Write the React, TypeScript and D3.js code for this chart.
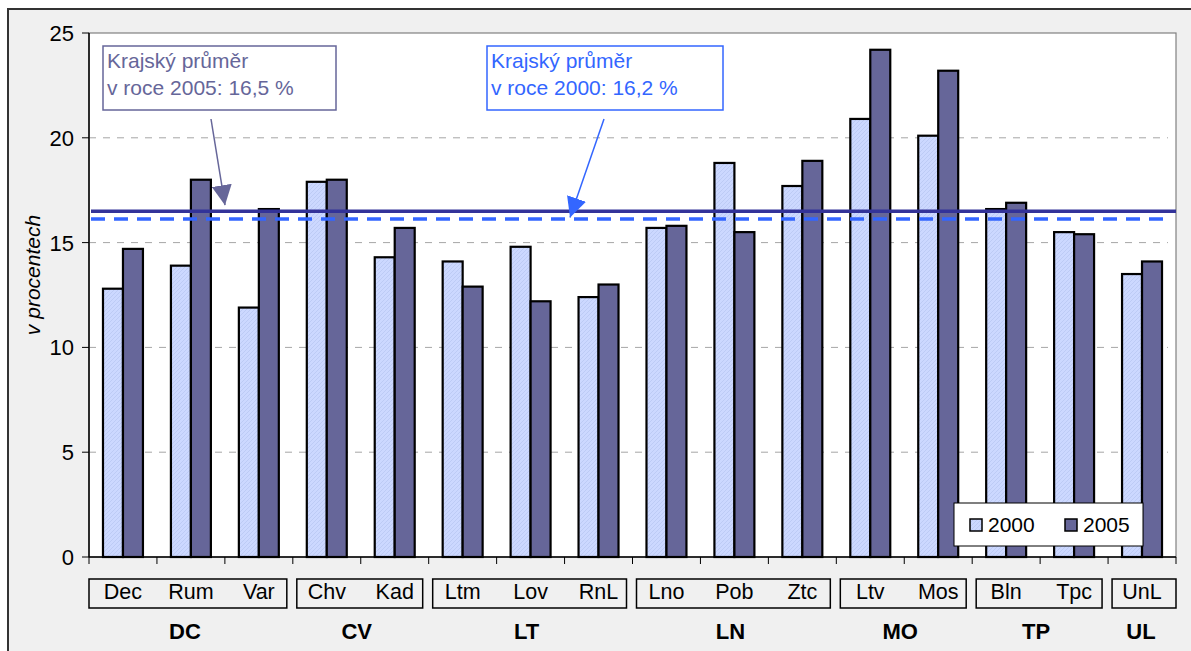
import * as d3 from "d3";

// categories (districts) and their region groups
const CATEGORIES = ["Dec", "Rum", "Var", "Chv", "Kad", "Ltm", "Lov", "RnL", "Lno", "Pob", "Ztc", "Ltv", "Mos", "Bln", "Tpc", "UnL"];
const GROUPS = [
  { name: "DC", items: ["Dec", "Rum", "Var"] },
  { name: "CV", items: ["Chv", "Kad"] },
  { name: "LT", items: ["Ltm", "Lov", "RnL"] },
  { name: "LN", items: ["Lno", "Pob", "Ztc"] },
  { name: "MO", items: ["Ltv", "Mos"] },
  { name: "TP", items: ["Bln", "Tpc"] },
  { name: "UL", items: ["UnL"] },
];
const YEARS = ["2000", "2005"];
const VALUES_2000 = [12.8, 13.9, 11.9, 17.9, 14.3, 14.1, 14.8, 12.4, 15.7, 18.8, 17.7, 20.9, 20.1, 16.6, 15.5, 13.5];
const VALUES_2005 = [14.7, 18.0, 16.6, 18.0, 15.7, 12.9, 12.2, 13.0, 15.8, 15.5, 18.9, 24.2, 23.2, 16.9, 15.4, 14.1];
const Y_TICKS = [0, 5, 10, 15, 20, 25];
const AVG_2005 = 16.5;
const AVG_2000 = 16.2;

const FILL_2000 = "#ccd8ff";
const FILL_2005 = "#666699";
const COL_2005 = "#666699";
const COL_2000 = "#3366ff";
const FONT = "'Liberation Sans', Arial, sans-serif";

export default function App() {
  const left = 89, right = 1176, top = 33, bottom = 557;

  const x = d3.scaleBand().domain(CATEGORIES).range([left, right]).padding(0);
  const inner = d3.scaleBand().domain(YEARS).range([0, x.bandwidth()]).paddingInner(0).paddingOuter(0.7);
  const y = d3.scaleLinear().domain([0, 25]).range([bottom, top]);

  const series = [
    { year: "2000", values: VALUES_2000, fill: "url(#hatch2000)" },
    { year: "2005", values: VALUES_2005, fill: FILL_2005 },
  ];

  const bw = x.bandwidth();

  return (
    <div style={{ position: "absolute", left: 0, top: 0 }}>
      <svg width={1191} height={651} style={{ display: "block", fontFamily: FONT }}>
        <defs>
          <pattern id="hatch2000" width="4" height="4" patternUnits="userSpaceOnUse">
            <rect width="4" height="4" fill={FILL_2000} />
            <path d="M0,4 L4,0" stroke="#b6c6f0" strokeWidth="0.7" />
          </pattern>
          <marker id="arrow2005" viewBox="0 0 20 20" refX="20" refY="10" markerWidth="20" markerHeight="20" markerUnits="userSpaceOnUse" orient="auto">
            <path d="M0,0 L20,10 L0,20 Z" fill={COL_2005} />
          </marker>
          <marker id="arrow2000" viewBox="0 0 20 20" refX="20" refY="10" markerWidth="20" markerHeight="20" markerUnits="userSpaceOnUse" orient="auto">
            <path d="M0,0 L20,10 L0,20 Z" fill={COL_2000} />
          </marker>
        </defs>

        {/* outer frame */}
        <rect x={8} y={9} width={1200} height={700} fill="#f0f0f0" stroke="#333" strokeWidth={2} />

        {/* plot area */}
        <rect x={left} y={top} width={right - left} height={bottom - top} fill="#fff" stroke="#808080" strokeWidth={1.2} />

        {/* gridlines */}
        {Y_TICKS.filter((t) => t > 0 && t < 25).map((t) => (
          <line key={t} x1={left} x2={right - 8} y1={y(t)} y2={y(t)} stroke="#a6a6a6" strokeWidth={1} strokeDasharray="7,7" />
        ))}

        {/* bars */}
        {series.map((s) => (
          <g key={s.year}>
            {CATEGORIES.map((c, i) => (
              <rect
                key={c}
                x={(x(c) as number) + (inner(s.year) as number)}
                y={y(s.values[i])}
                width={inner.bandwidth()}
                height={y(0) - y(s.values[i])}
                fill={s.fill}
                stroke="#000"
                strokeWidth={2.2}
              />
            ))}
          </g>
        ))}

        {/* average lines */}
        <line x1={left + 2} x2={right} y1={y(AVG_2005)} y2={y(AVG_2005)} stroke="#333399" strokeWidth={3.5} />
        <line x1={left + 2} x2={right - 13} y1={y(AVG_2000) + 1.5} y2={y(AVG_2000) + 1.5} stroke={COL_2000} strokeWidth={3.5} strokeDasharray="14,9" />

        {/* y axis */}
        <line x1={left} x2={left} y1={top} y2={bottom} stroke="#000" strokeWidth={1.5} />
        {Y_TICKS.map((t) => (
          <g key={t}>
            <line x1={left - 7} x2={left} y1={y(t)} y2={y(t)} stroke="#000" strokeWidth={1} />
            <text x={left - 15} y={y(t)} dy="0.36em" textAnchor="end" fontSize={22} fill="#000">{t}</text>
          </g>
        ))}
        <text transform={`translate(40,${(y(10) + y(15)) / 2 - 20}) rotate(-90)`} textAnchor="middle" fontSize={21} fontStyle="italic" fill="#000">
          v procentech
        </text>

        {/* x axis */}
        <line x1={left} x2={right} y1={bottom} y2={bottom} stroke="#000" strokeWidth={1.5} />
        {CATEGORIES.concat(["_end"]).map((c, i) => {
          const xx = left + i * bw;
          return <line key={c} x1={xx} x2={xx} y1={bottom} y2={bottom + 7} stroke="#000" strokeWidth={1} />;
        })}

        {/* group boxes and labels */}
        {GROUPS.map((g, gi) => {
          const x0 = x(g.items[0]) as number;
          const x1 = (x(g.items[g.items.length - 1]) as number) + bw;
          const bx0 = gi === 0 ? x0 : x0 + 4;
          const bx1 = gi === GROUPS.length - 1 ? x1 : x1 - 6;
          return (
            <g key={g.name}>
              <rect x={bx0} y={579} width={bx1 - bx0} height={29} fill="none" stroke="#000" strokeWidth={1.5} />
              <text x={(bx0 + bx1) / 2 - 3} y={639} textAnchor="middle" fontSize={22} fontWeight="bold" fill="#000">{g.name}</text>
            </g>
          );
        })}
        {CATEGORIES.map((c) => (
          <text key={c} x={(x(c) as number) + bw / 2} y={599} textAnchor="middle" fontSize={21.5} fill="#000">{c}</text>
        ))}

        {/* annotations */}
        <rect x={103} y={46} width={233} height={64} fill="#fff" stroke={COL_2005} strokeWidth={1.5} />
        <text x={107} y={68} fontSize={21} fill={COL_2005}>Krajský průměr</text>
        <text x={107} y={95} fontSize={21} fill={COL_2005}>v roce 2005: 16,5 %</text>
        <line x1={211} y1={119} x2={225} y2={y(AVG_2005) - 6} stroke={COL_2005} strokeWidth={1.5} markerEnd="url(#arrow2005)" />

        <rect x={487} y={46} width={236} height={64} fill="#fff" stroke={COL_2000} strokeWidth={1.5} />
        <text x={491} y={68} fontSize={21} fill={COL_2000}>Krajský průměr</text>
        <text x={491} y={95} fontSize={21} fill={COL_2000}>v roce 2000: 16,2 %</text>
        <line x1={604} y1={119} x2={570} y2={y(AVG_2000)} stroke={COL_2000} strokeWidth={1.5} markerEnd="url(#arrow2000)" />

        {/* legend */}
        <rect x={954} y={503} width={189} height={43} fill="#fff" stroke="#000" strokeWidth={1} />
        {YEARS.map((yr, i) => (
          <g key={yr} transform={`translate(${970 + i * 95},519)`}>
            <rect width={12} height={12} fill={i === 0 ? "url(#hatch2000)" : FILL_2005} stroke="#000" strokeWidth={1.5} />
            <text x={18} y={13} fontSize={21} fill="#000">{yr}</text>
          </g>
        ))}
      </svg>
    </div>
  );
}
